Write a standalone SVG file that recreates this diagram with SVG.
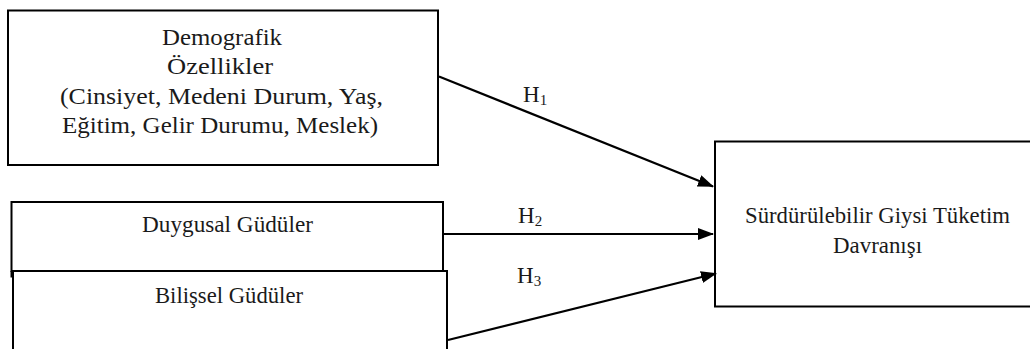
<svg xmlns="http://www.w3.org/2000/svg" width="1030" height="349" viewBox="0 0 1030 349">
<style>
.box{fill:#fff;stroke:#000;stroke-width:2}
.t{font-family:"Liberation Serif","Times New Roman",serif;font-size:23px;fill:#1a1a1a;text-anchor:middle}
.h{font-family:"Liberation Serif","Times New Roman",serif;font-size:23px;fill:#1a1a1a}
.sub{font-size:15px}
.c{stroke:#000;stroke-width:2.2;fill:none;marker-end:url(#ah)}
</style>
<defs>
<marker id="ah" markerWidth="16" markerHeight="12" refX="15" refY="6" orient="auto" markerUnits="userSpaceOnUse">
<path d="M0,0 L16,6 L0,12 Z" fill="#000"/>
</marker>
</defs>
<rect width="1030" height="349" fill="#fff"/>
<g id="node-demografik">
<rect class="box" x="8" y="10.5" width="430" height="154.5"/>
<text class="t" x="222" y="44.5" textLength="120" lengthAdjust="spacingAndGlyphs">Demografik</text>
<text class="t" x="220" y="74" textLength="106" lengthAdjust="spacingAndGlyphs">Özellikler</text>
<text class="t" x="221.5" y="104" textLength="323" lengthAdjust="spacingAndGlyphs">(Cinsiyet, Medeni Durum, Yaş,</text>
<text class="t" x="220" y="133" textLength="316" lengthAdjust="spacingAndGlyphs">Eğitim, Gelir Durumu, Meslek)</text>
</g>
<g id="node-duygusal">
<rect class="box" x="11.5" y="202" width="431.5" height="69"/>
<line x1="11.5" y1="271" x2="11.5" y2="277.5" stroke="#000" stroke-width="2"/>
<text class="t" x="227.5" y="232" textLength="171" lengthAdjust="spacingAndGlyphs">Duygusal Güdüler</text>
</g>
<g id="node-bilissel">
<rect class="box" x="13" y="271" width="434" height="80"/>
<text class="t" x="229" y="303" textLength="148" lengthAdjust="spacingAndGlyphs">Bilişsel Güdüler</text>
</g>
<g id="node-surdurulebilir">
<rect class="box" x="715" y="141.5" width="330" height="165"/>
<text class="t" x="877.5" y="223" textLength="265" lengthAdjust="spacingAndGlyphs">Sürdürülebilir Giysi Tüketim</text>
<text class="t" x="877.5" y="253" textLength="89" lengthAdjust="spacingAndGlyphs">Davranışı</text>
</g>
<g id="connectors">
<line class="c" x1="439" y1="76.5" x2="713" y2="186.5"/>
<line class="c" x1="444" y1="234" x2="713" y2="234"/>
<line class="c" x1="448" y1="340" x2="716" y2="273.5"/>
<text class="h" x="523" y="102">H<tspan class="sub" dy="3">1</tspan></text>
<text class="h" x="518" y="222.5">H<tspan class="sub" dy="3">2</tspan></text>
<text class="h" x="517" y="282.5">H<tspan class="sub" dy="3">3</tspan></text>
</g>
</svg>
